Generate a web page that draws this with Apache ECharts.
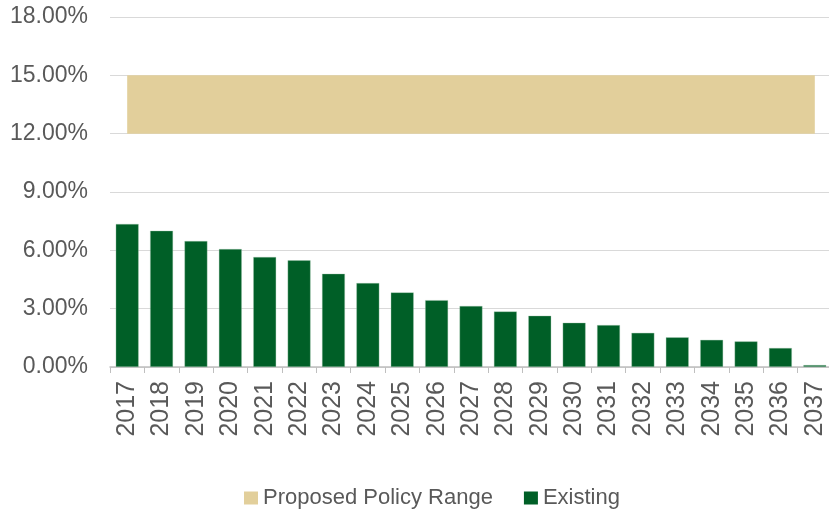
<!DOCTYPE html>
<html>
<head>
<meta charset="utf-8">
<script src="https://cdn.jsdelivr.net/npm/echarts@6/dist/echarts.min.js"></script>
<style>html,body{margin:0;padding:0;background:#fff;}#c{width:829px;height:511px;}</style>
</head>
<body>
<div id="c"></div>
<script>
const years = ['2017','2018','2019','2020','2021','2022','2023','2024','2025','2026','2027','2028','2029','2030','2031','2032','2033','2034','2035','2036','2037'];
const existing = [7.36,7.01,6.48,6.07,5.66,5.49,4.80,4.32,3.84,3.44,3.14,2.86,2.64,2.28,2.16,1.76,1.53,1.40,1.32,0.98,0.10];
const policyLow = [12,12,12,12,12,12,12,12,12,12,12,12,12,12,12,12,12,12,12,12,12];
const policyHigh = [15,15,15,15,15,15,15,15,15,15,15,15,15,15,15,15,15,15,15,15,15];
const yTicks = [0,3,6,9,12,15,18];

const bandWidth = policyHigh.map((h,i)=>h-policyLow[i]);
const font = 'Liberation Sans, Arial, sans-serif';
const chart = echarts.init(document.getElementById('c'));
chart.setOption({
  animation:false,
  grid:{left:110, top:17, width:722, bottom:144, containLabel:false, outerBoundsMode:'none'},
  legend:{
    left:239, top:482, itemWidth:14, itemHeight:13, itemGap:31,
    textStyle:{fontFamily:font, fontSize:22, color:'#595959'},
    data:[{name:'Proposed Policy Range', icon:'rect'},{name:'Existing', icon:'rect', itemStyle:{borderWidth:0}}]
  },
  xAxis:{
    type:'category', data:years, boundaryGap:true,
    axisLine:{lineStyle:{color:'#bfbfbf', width:1.5}},
    axisTick:{show:true, length:6, lineStyle:{color:'#bfbfbf'}},
    axisLabel:{rotate:90, fontFamily:font, fontSize:25, color:'#595959', margin:14, interval:0}
  },
  yAxis:{
    type:'value', min:yTicks[0], max:yTicks[yTicks.length-1], interval:3,
    axisLine:{show:false}, axisTick:{show:false},
    splitLine:{lineStyle:{color:'#d9d9d9', width:1}},
    axisLabel:{fontFamily:font, fontSize:23, color:'#595959', margin:22, formatter:v=>v.toFixed(2)+'%'}
  },
  series:[
    {name:'base', type:'line', stack:'band', data:policyLow, symbol:'none', lineStyle:{opacity:0}, silent:true, legendHoverLink:false, z:1},
    {name:'Proposed Policy Range', type:'line', stack:'band', data:bandWidth, symbol:'none',
     lineStyle:{width:0, color:'#e2cf9b'}, itemStyle:{color:'#e2cf9b'}, areaStyle:{color:'#e2cf9b', opacity:1}, z:1},
    {name:'Existing', type:'bar', data:existing, barCategoryGap:'33%', barMinHeight:2,
     itemStyle:{color:'#005f27', borderColor:'rgba(160,200,175,0.6)', borderWidth:0.6}, z:2}
  ]
});
</script>
</body>
</html>
